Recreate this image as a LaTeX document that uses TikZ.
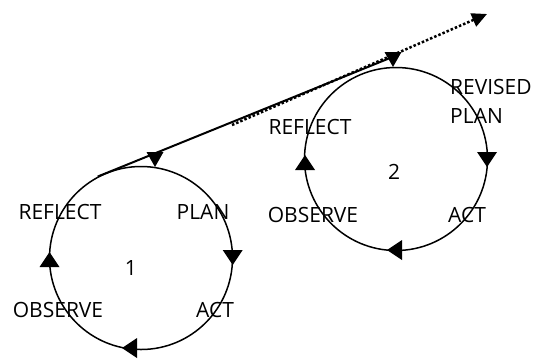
\documentclass[tikz,border=0pt]{standalone}
\usepackage{fontspec}
\setmainfont{Open Sans}
\usetikzlibrary{arrows.meta}
\usetikzlibrary{positioning}
\tikzstyle{loopring} = [draw, circle, line width=1.5pt, minimum size=183pt, inner sep=0pt]
\tikzstyle{stage} = [font=\fontsize{21}{29}\selectfont, inner sep=0pt]
\tikzset{tipdown/.pic={\fill (-10,-15) -- (10,-15) -- (0,0) -- cycle;},
  tipup/.pic={\fill (-10,15) -- (10,15) -- (0,0) -- cycle;},
  tipleft/.pic={\fill (15,-10) -- (15,10) -- (0,0) -- cycle;},
  droptip/.pic={\fill (-8.5,-15) -- (8.5,-15) -- (0,0) -- cycle;}}

\begin{document}
\begin{tikzpicture}[x=1pt,y=-1pt]
\useasboundingbox (0,0) rectangle (534,360);
% first cycle
\node[loopring] (c1) at (141,258) {};
\node[stage] (reflect1) at (60,212) {REFLECT};
\node[stage] (plan1) at (203,212) {PLAN};
\node[stage] (num1) at (131,268) {1};
\node[stage] (observe1) at (58,309.5) {OBSERVE};
\node[stage] (act1) at (215,310) {ACT};
\pic at (232.7,265) {tipdown};
\pic at (122,348) {tipleft};
\pic at (49.5,252) {tipup};
% second cycle
\node[loopring] (c2) at (396,159) {};
\node[stage] (reflect2) at (310,127) {REFLECT};
\node[stage, align=left, anchor=north west] (plan2) at (450,79) {REVISED\\PLAN};
\node[stage] (num2) at (394,172) {2};
\node[stage] (observe2) at (313,214.5) {OBSERVE};
\node[stage] (act2) at (467,215) {ACT};
\pic at (487,167) {tipdown};
\pic at (387,250) {tipleft};
\pic at (305,155) {tipup};
% spiral on to the next cycle
\coordinate (s2) at (390,58);
\coordinate (d1) at (232,125);
\coordinate (d2) at (487,14);
\draw[line width=2pt] (c1.118) -- (s2);
\draw[line width=2.5pt, dotted, -{Triangle[width=14pt,length=15pt]}] (d1) -- (d2);
\pic at (155,167) {droptip};
\pic at (393,67) {droptip};
\end{tikzpicture}
\end{document}
